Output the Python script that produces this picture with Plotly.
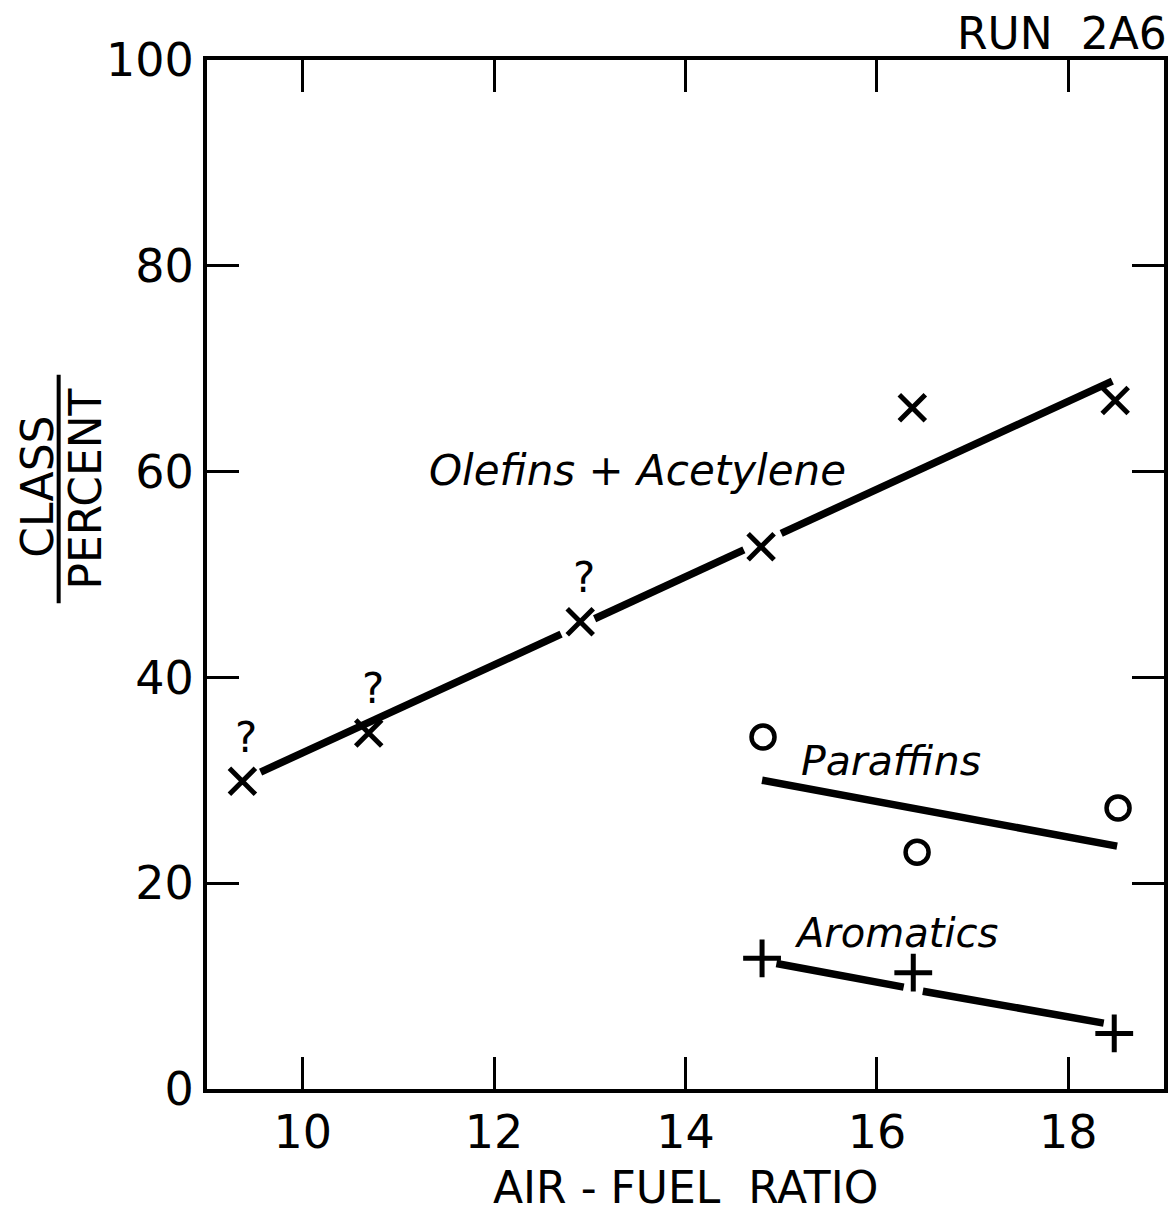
import plotly.graph_objects as go

# ---- data ----
air_fuel_olefins = [9.37, 10.69, 12.90, 14.79, 16.37, 18.49]
olefins_acetylene = [29.9, 34.6, 45.4, 52.7, 66.2, 66.9]
olefin_questionable = [True, True, True, False, False, False]

air_fuel_paraffins = [14.81, 16.42, 18.52]
paraffins = [34.2, 23.0, 27.3]

air_fuel_aromatics = [14.80, 16.38, 18.48]
aromatics = [12.7, 11.3, 5.4]

# hand-drawn trend lines (None = break in the drawn line)
olefin_fit_x = [9.56, 12.70, None, 13.05, 14.61, None, 15.00, 18.46]
olefin_fit_y = [30.8, 44.2, None, 45.7, 52.4, None, 54.0, 68.8]
paraffin_fit_x = [14.80, 18.51]
paraffin_fit_y = [30.0, 23.6]
aromatic_fit_x = [14.95, 16.28, None, 16.48, 18.37]
aromatic_fit_y = [12.2, 9.9, None, 9.5, 6.4]

x_ticks = [10, 12, 14, 16, 18]
y_ticks = [0, 20, 40, 60, 80, 100]

FONT = "DejaVu Sans"
INK = "black"

fig = go.Figure()

line_style = dict(color=INK, width=7.5)
fig.add_trace(go.Scatter(x=olefin_fit_x, y=olefin_fit_y, mode="lines",
                         line=line_style, connectgaps=False, hoverinfo="skip"))
fig.add_trace(go.Scatter(x=paraffin_fit_x, y=paraffin_fit_y, mode="lines",
                         line=line_style, hoverinfo="skip"))
fig.add_trace(go.Scatter(x=aromatic_fit_x, y=aromatic_fit_y, mode="lines",
                         line=line_style, connectgaps=False, hoverinfo="skip"))

fig.add_trace(go.Scatter(
    x=air_fuel_olefins, y=olefins_acetylene, mode="markers",
    marker=dict(symbol="x-thin", size=26, line=dict(color=INK, width=5)),
    name="Olefins + Acetylene"))
fig.add_trace(go.Scatter(
    x=air_fuel_paraffins, y=paraffins, mode="markers",
    marker=dict(symbol="circle-open", size=23, color=INK, line=dict(color=INK, width=4.5)),
    name="Paraffins"))
fig.add_trace(go.Scatter(
    x=air_fuel_aromatics, y=aromatics, mode="markers",
    marker=dict(symbol="cross-thin", size=27, line=dict(color=INK, width=5)),
    name="Aromatics"))

# question marks over doubtful points
for xv, yv, q in zip(air_fuel_olefins, olefins_acetylene, olefin_questionable):
    if q:
        fig.add_annotation(x=xv, y=yv, text="?", showarrow=False, yshift=44,
                           xshift=4, font=dict(family=FONT, size=42, color=INK))

# series labels
fig.add_annotation(x=13.5, y=60.1, text="<i>Olefins + Acetylene</i>", showarrow=False,
                   font=dict(family=FONT, size=42, color=INK))
fig.add_annotation(x=16.15, y=31.9, text="<i>Paraffins</i>", showarrow=False,
                   font=dict(family=FONT, size=41, color=INK))
fig.add_annotation(x=16.2, y=15.2, text="<i>Aromatics</i>", showarrow=False,
                   font=dict(family=FONT, size=40, color=INK))

# titles
fig.add_annotation(xref="paper", yref="paper", x=0.5, y=-0.096, yanchor="middle",
                   text="AIR - FUEL  RATIO", showarrow=False,
                   font=dict(family=FONT, size=44, color=INK))
fig.add_annotation(xref="paper", yref="paper", x=1.0, xanchor="right", y=1.0,
                   yshift=27, xshift=5, yanchor="middle", text="RUN  2A6", showarrow=False,
                   font=dict(family=FONT, size=44, color=INK))
fig.add_annotation(xref="paper", yref="paper", x=-0.178, y=0.585, xanchor="center",
                   yanchor="middle", text="CLASS", textangle=-90, showarrow=False,
                   font=dict(family=FONT, size=44, color=INK))
fig.add_annotation(xref="paper", yref="paper", x=-0.127, y=0.583, xanchor="center",
                   yanchor="middle", text="PERCENT", textangle=-90, showarrow=False,
                   font=dict(family=FONT, size=44, color=INK))
fig.add_shape(type="line", xref="paper", yref="paper", x0=-0.155, x1=-0.155,
              y0=0.472, y1=0.694, line=dict(color=INK, width=4))

axis_common = dict(showline=True, linecolor=INK, linewidth=4, mirror="ticks",
                   ticks="inside", ticklen=32, tickwidth=3, tickcolor=INK,
                   showgrid=False, zeroline=False,
                   tickfont=dict(family=FONT, size=46, color=INK))

fig.update_xaxes(range=[9, 19], tickvals=x_ticks, ticktext=[str(v) for v in x_ticks],
                 ticklabelstandoff=0, **axis_common)
fig.update_yaxes(range=[0, 100], tickvals=y_ticks, ticktext=[str(v) for v in y_ticks],
                 ticklabelstandoff=0, **axis_common)

fig.update_layout(width=1175, height=1214, showlegend=False,
                  paper_bgcolor="white", plot_bgcolor="white",
                  margin=dict(l=207, r=7, t=60, b=125))

fig.write_html("out.html")
